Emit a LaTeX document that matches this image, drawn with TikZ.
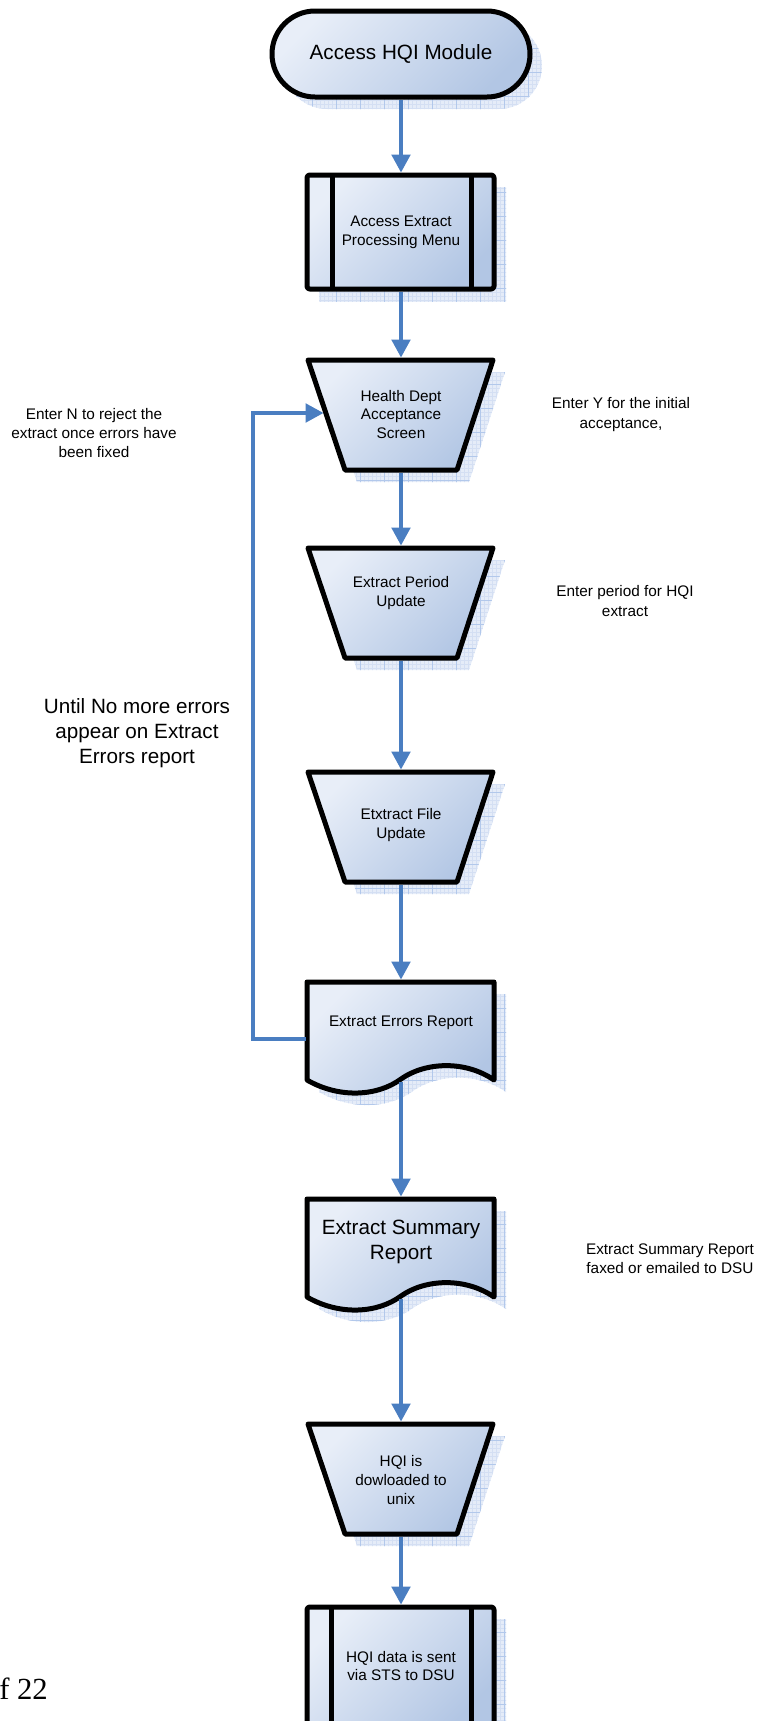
\documentclass[tikz,border=0pt]{standalone}
\usepackage{fontspec}
\setmainfont{Liberation Sans}
\newfontfamily\seriffont{Liberation Serif}
\usetikzlibrary{arrows.meta}
\definecolor{grad1}{RGB}{232,238,248}
\definecolor{grad2}{RGB}{178,198,228}
\definecolor{arrowblue}{RGB}{74,126,193}
\definecolor{shadowbase}{RGB}{229,236,248}
\definecolor{gridfine}{RGB}{212,223,243}
\definecolor{gridmajor}{RGB}{178,200,235}

\newcommand\shadowof[1]{%
  \begin{scope}
    \clip #1;
    \fill[shadowbase] (250,0) rectangle (560,1721);
    \draw[gridfine, line width=0.2pt, step=3pt] (250,1721) grid (560,0);
    \draw[gridmajor, line width=0.35pt, step=18pt] (250,1721) grid (560,0);
  \end{scope}}

\newcommand\trapz[4]{%
  \draw[shapeb] (308,#2) -- (493,#2) -- (457,#2+110) -- (345,#2+110) -- cycle;
  \node[lbl] (#1) at (401,#4) {#3};
  \coordinate (#1-t) at (401,#2-2.5);
  \coordinate (#1-b) at (401,#2+112.5);
}
\newcommand\trapshadow[1]{\shadowof{(320,#1+12) -- (505,#1+12) -- (469,#1+122) -- (357,#1+122) -- cycle}}

\newcommand\docz[4]{%
  \draw[shapeb] (307,#2+98) -- (307,#2) -- (494,#2) -- (494,#2+98)
     .. controls (465,#2+78) and (425,#2+80) .. (401,#2+97)
     .. controls (378,#2+114) and (340,#2+117) .. (307,#2+98) -- cycle;
  \node[#4] (#1) at (401,#2+#3) {};
  \coordinate (#1-t) at (401,#2-2.5);
  \coordinate (#1-b) at (401,#2+99.5);
}
\newcommand\docshadow[1]{\shadowof{(319,#1+110) -- (319,#1+12) -- (506,#1+12) -- (506,#1+110)
     .. controls (477,#1+90) and (437,#1+92) .. (413,#1+109)
     .. controls (390,#1+126) and (352,#1+129) .. (319,#1+110) -- cycle}}

\begin{document}
\begin{tikzpicture}[x=0.75pt, y=-0.75pt,
  shapeb/.style={draw=black, line width=3.75pt, line join=round,
     top color=grad1, bottom color=grad2, shading angle=45},
  conn/.style={draw=arrowblue, line width=2.5pt, -{Triangle[width=14pt,length=13.5pt]}},
  lbl/.style={align=center, font=\fontsize{11.5}{14}\selectfont},
  big/.style={align=center, font=\fontsize{15.5}{18.5}\selectfont},
  note/.style={align=center, font=\fontsize{11.5}{14.4}\selectfont}]
\useasboundingbox (0,0) rectangle (765,1721);

% ---------- shadows ----------
\shadowof{[rounded corners=32.25pt] (284,23) rectangle (542,109)}
\shadowof{(319,187) rectangle (506,301)}
\trapshadow{360}
\trapshadow{548}
\trapshadow{772}
\docshadow{982}
\docshadow{1199}
\trapshadow{1424}
\shadowof{(319,1619) rectangle (506,1740)}

% ---------- shapes ----------
\draw[shapeb, rounded corners=32.25pt] (272,11) rectangle (530,97);
\node[big] (start) at (401,54) {Access HQI Module};
\coordinate (start-b) at (401,99.5);

\draw[shapeb, rounded corners=2pt] (307,175) rectangle (494,289);
\draw[line width=3.75pt] (332,175) -- (332,289) (471,175) -- (471,289);
\node[lbl] (menu) at (401,232) {Access Extract\\Processing Menu};
\coordinate (menu-t) at (401,172.5);
\coordinate (menu-b) at (401,291.5);

\trapz{hd}{360}{Health Dept\\Acceptance\\Screen}{414.5}
\trapz{ep}{548}{Extract Period\\Update}{593}
\trapz{ef}{772}{Etxtract File\\Update}{825}

\docz{er}{982}{41}{lbl}
\node[lbl] at (er) {Extract Errors Report};
\docz{sm}{1199}{43}{big}
\node[big] at (sm) {Extract Summary\\Report};

\trapz{dl}{1424}{HQI is\\dowloaded to\\unix}{1480}

\draw[shapeb, rounded corners=2pt] (307,1607) rectangle (494,1728);
\draw[line width=3.75pt] (331,1607) -- (331,1728) (471,1607) -- (471,1728);
\node[lbl] (sent) at (401,1666) {HQI data is sent\\via STS to DSU};
\coordinate (sent-t) at (401,1604.5);

% ---------- connectors ----------
\draw[conn] (start-b) -- (menu-t);
\draw[conn] (menu-b) -- (hd-t);
\draw[conn] (hd-b) -- (ep-t);
\draw[conn] (ep-b) -- (ef-t);
\draw[conn] (ef-b) -- (er-t);
\draw[conn] (er-b) -- (sm-t);
\draw[conn] (sm-b) -- (dl-t);
\draw[conn] (dl-b) -- (sent-t);

\coordinate (er-l) at (305.5,1039);
\coordinate (hd-l) at (323.5,413);
\coordinate (loop1) at (253,1039);
\coordinate (loop2) at (253,413);
\draw[conn] (er-l) -- (loop1) -- (loop2) -- (hd-l);

% ---------- notes ----------
\node[note] (n1) at (94,433) {Enter N to reject the\\extract once errors have\\been fixed};
\node[align=center, font=\fontsize{15.5}{18.75}\selectfont] (n2) at (137,733) {Until No more errors\\appear on Extract\\Errors report};
\node[note] (n3) at (621,414.5) {Enter Y for the initial\\acceptance,};
\node[note] (n4) at (625,601) {Enter period for HQI\\extract};
\node[note] (n5) at (670,1258.5) {Extract Summary Report\\faxed or emailed to DSU};
\node[font=\seriffont\fontsize{23}{27}\selectfont, anchor=base west, inner sep=0pt] (pg) at (-1,1699) {f 22};
\end{tikzpicture}
\end{document}
